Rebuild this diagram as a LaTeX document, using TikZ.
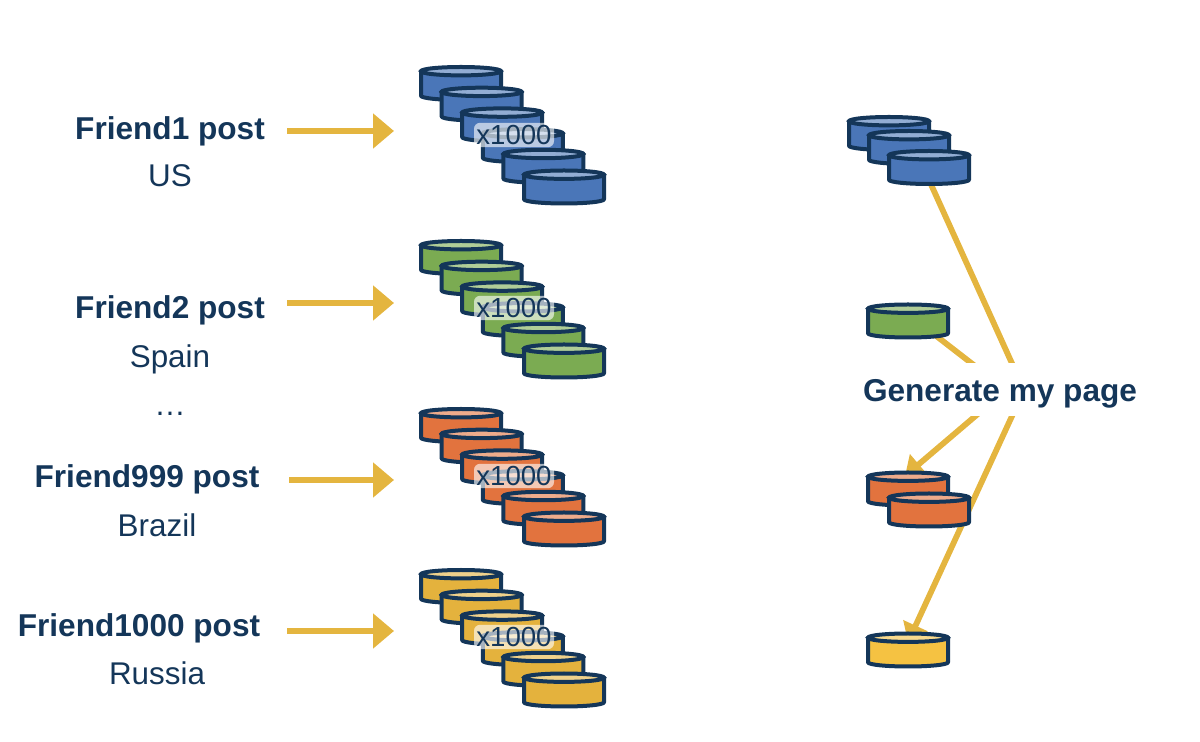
\documentclass[tikz,border=0pt]{standalone}
\usepackage{fontspec}
\setmainfont{Liberation Sans}
\usetikzlibrary{arrows.meta}

\definecolor{navy}{HTML}{143659}
\definecolor{diskblue}{HTML}{4A76B8}
\definecolor{diskgreen}{HTML}{7BAB52}
\definecolor{diskorange}{HTML}{E2733E}
\definecolor{diskgold}{HTML}{E4B23D}
\definecolor{diskyellow}{HTML}{F5C242}
\definecolor{linegold}{HTML}{E4B53F}

\tikzset{
    pics/disk/.style={code={
        \draw[navy, line width=2pt, line join=round, fill=#1] (-20pt,6.15pt) -- (-20pt,-6.15pt)
            arc[start angle=180, end angle=360, x radius=20pt, y radius=2.1pt] -- (20pt,6.15pt) -- cycle;
        \draw[navy, line width=2pt, fill=#1!60!white] (0pt,6.15pt) ellipse [x radius=20pt, y radius=2.1pt];
    }},
    title/.style={text=navy, font=\bfseries\fontsize{15.8}{18}\selectfont, inner sep=0pt},
    place/.style={text=navy, font=\fontsize{15.7}{18}\selectfont, inner sep=0pt},
    times/.style={text=navy, font=\fontsize{13.8}{16}\selectfont, fill=white, fill opacity=0.62,
        text opacity=1, inner sep=1.2pt, rounded corners=3pt},
    feed/.style={linegold, line width=3.2pt, -{Triangle[length=10.5pt, width=17pt]}},
    link/.style={linegold, line width=2.9pt},
    linkarrow/.style={link, -{Triangle[length=9pt, width=13pt]}}
}

\newcommand{\diskstack}[3]{
    \foreach \i in {0,...,5}
        \pic at ({#1+20.6*\i},{#2+20.7*\i}) {disk=#3};
}

\begin{document}
\begin{tikzpicture}[x=0.5pt, y=-0.5pt]
    \useasboundingbox (0,0) rectangle (1200,742);

    % Left labels
    \node[title] (friendA) at (170,131) {Friend1 post};
    \node[place] (placeA) at (170,176) {US};
    \node[title] (friendB) at (170,310) {Friend2 post};
    \node[place] (placeB) at (170,359) {Spain};
    \node[place] (dots) at (170,414) {…};
    \node[title] (friendC) at (147,479) {Friend999 post};
    \node[place] (placeC) at (157,525) {Brazil};
    \node[title] (friendD) at (139,628) {Friend1000 post};
    \node[place] (placeD) at (157,673) {Russia};

    % Feed arrows
    \coordinate (feedAin) at (287,131);
    \coordinate (feedAout) at (394,131);
    \coordinate (feedBin) at (287,303);
    \coordinate (feedBout) at (394,303);
    \coordinate (feedCin) at (289,480);
    \coordinate (feedCout) at (394,480);
    \coordinate (feedDin) at (287,631);
    \coordinate (feedDout) at (394,631);
    \draw[feed] (feedAin) -- (feedAout);
    \draw[feed] (feedBin) -- (feedBout);
    \draw[feed] (feedCin) -- (feedCout);
    \draw[feed] (feedDin) -- (feedDout);

    % Disk stacks
    \diskstack{461}{83.5}{diskblue}
    \diskstack{461}{257.5}{diskgreen}
    \diskstack{461}{425.5}{diskorange}
    \diskstack{461}{586.5}{diskgold}
    \node[times] (timesA) at (514,135) {x1000};
    \node[times] (timesB) at (514,308) {x1000};
    \node[times] (timesC) at (514,476) {x1000};
    \node[times] (timesD) at (514,637) {x1000};

    % Links to the page, behind the text box
    \coordinate (hubOuter) at (1024,390);
    \coordinate (hubInner) at (1006,390);
    \coordinate (blueOut) at (929,180);
    \coordinate (greenOut) at (935,335);
    \coordinate (orangeIn) at (905,476);
    \coordinate (yellowIn) at (908,642);
    \draw[link] (blueOut) -- (hubOuter);
    \draw[link] (greenOut) -- (hubInner);
    \draw[linkarrow] (hubInner) -- (orangeIn);
    \draw[linkarrow] (hubOuter) -- (yellowIn);
    \node[text=navy, font=\bfseries\fontsize{15.8}{18}\selectfont, fill=white, inner sep=0pt,
        text height=15.5pt, text depth=3.5pt,
        minimum width=140pt, minimum height=26.5pt] (page) at (1000,390) {Generate my page};

    % Disks on the right
    \pic at (889,133.5) {disk=diskblue};
    \pic at (909,147.5) {disk=diskblue};
    \pic at (929,167.5) {disk=diskblue};
    \pic at (908,321) {disk=diskgreen};
    \pic at (908,489) {disk=diskorange};
    \pic at (929,510) {disk=diskorange};
    \pic at (908,650) {disk=diskyellow};
\end{tikzpicture}
\end{document}
